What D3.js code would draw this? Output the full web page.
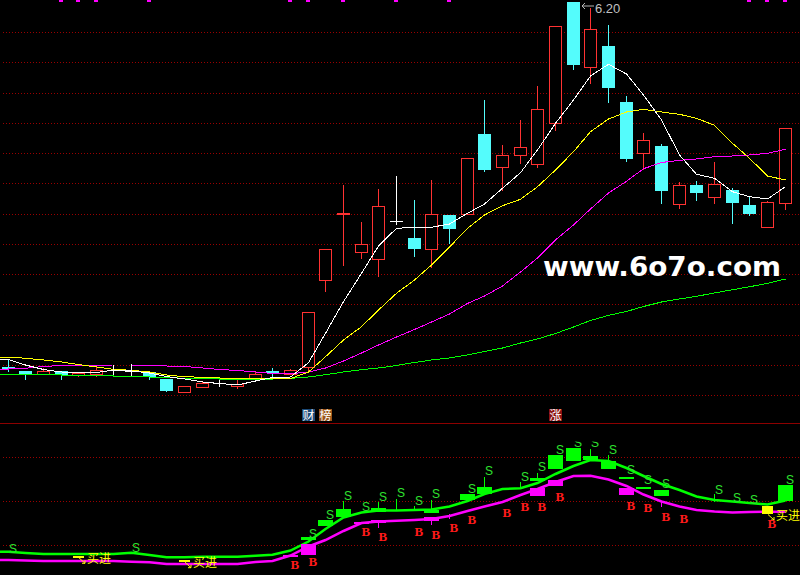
<!DOCTYPE html>
<html>
<head>
<meta charset="utf-8">
<script src="https://cdn.jsdelivr.net/npm/d3@7"></script>
<style>
  body { margin: 0; background: #000; }
  svg { display: block; }
</style>
</head>
<body>
<div class="chart"></div>
<script>
var svgWidth = 800;
var svgHeight = 575;

// daily candles (price)
var openP  = [2.55, 2.51, 2.48, 2.51, 2.47, 2.48, 2.52, 2.51, 2.50, 2.43, 2.305, 2.355, 2.39, 2.36, 2.445, 2.51, 2.48, 2.55, 3.42, 4.08, 3.70, 3.63, 4.01, 3.84, 3.73, 4.07, 4.08, 4.88, 4.55, 4.665, 4.58, 4.985, 6.20, 5.555, 5.76, 5.20, 4.687, 4.76, 4.183, 4.367, 4.253, 4.32, 4.167, 3.953, 4.193];
var highP  = [2.63, 2.515, 2.54, 2.51, 2.50, 2.55, 2.57, 2.58, 2.51, 2.43, 2.36, 2.40, 2.42, 2.42, 2.51, 2.54, 2.53, 3.10, 3.73, 4.37, 4.00, 4.33, 4.46, 4.22, 4.42, 4.07, 4.64, 5.22, 4.77, 5.02, 5.36, 5.955, 6.20, 6.14, 5.97, 5.26, 4.893, 4.78, 4.40, 4.41, 4.60, 4.34, 4.253, 4.21, 4.937];
var lowP   = [2.51, 2.43, 2.48, 2.43, 2.465, 2.46, 2.48, 2.46, 2.43, 2.31, 2.305, 2.355, 2.36, 2.34, 2.445, 2.44, 2.48, 2.52, 3.31, 3.57, 3.645, 3.455, 3.98, 3.66, 3.555, 3.79, 4.08, 4.51, 4.315, 4.585, 4.555, 4.915, 5.53, 5.39, 5.195, 4.605, 4.527, 4.193, 4.143, 4.22, 4.193, 3.993, 4.07, 3.953, 4.133];
var closeP = [2.53, 2.48, 2.51, 2.47, 2.49, 2.52, 2.52, 2.51, 2.45, 2.31, 2.36, 2.39, 2.39, 2.38, 2.48, 2.49, 2.52, 3.10, 3.73, 4.095, 3.78, 4.16, 4.01, 3.735, 4.08, 3.935, 4.64, 4.52, 4.665, 4.75, 5.13, 5.955, 5.565, 5.925, 5.345, 4.63, 4.82, 4.313, 4.367, 4.293, 4.377, 4.193, 4.083, 4.20, 4.937];

// moving averages
var ma5  = [2.625, 2.57, 2.525, 2.50, 2.495, 2.495, 2.52, 2.51, 2.49, 2.455, 2.43, 2.40, 2.385, 2.37, 2.41, 2.445, 2.45, 2.593, 2.887, 3.203, 3.487, 3.76, 3.937, 3.947, 3.947, 3.98, 4.087, 4.18, 4.337, 4.493, 4.72, 4.987, 5.22, 5.46, 5.577, 5.48, 5.27, 5.02, 4.67, 4.477, 4.437, 4.303, 4.253, 4.23, 4.353];
var ma10 = [2.65, 2.637, 2.62, 2.60, 2.575, 2.55, 2.527, 2.517, 2.50, 2.47, 2.453, 2.447, 2.44, 2.437, 2.437, 2.435, 2.435, 2.50, 2.653, 2.82, 2.953, 3.12, 3.287, 3.42, 3.57, 3.75, 3.937, 4.07, 4.163, 4.227, 4.353, 4.52, 4.703, 4.903, 5.03, 5.10, 5.127, 5.10, 5.077, 5.037, 4.967, 4.787, 4.637, 4.46, 4.42];
var ma20 = [2.53, 2.537, 2.555, 2.565, 2.567, 2.568, 2.57, 2.57, 2.565, 2.56, 2.555, 2.54, 2.525, 2.515, 2.50, 2.485, 2.482, 2.50, 2.54, 2.61, 2.69, 2.77, 2.85, 2.925, 3.00, 3.08, 3.185, 3.26, 3.36, 3.50, 3.64, 3.82, 3.97, 4.13, 4.29, 4.407, 4.533, 4.595, 4.617, 4.63, 4.653, 4.66, 4.67, 4.687, 4.727];
var ma60 = [2.48, 2.48, 2.475, 2.47, 2.47, 2.465, 2.46, 2.46, 2.45, 2.445, 2.437, 2.435, 2.43, 2.43, 2.43, 2.43, 2.437, 2.45, 2.473, 2.50, 2.523, 2.54, 2.565, 2.595, 2.62, 2.64, 2.67, 2.705, 2.74, 2.79, 2.83, 2.885, 2.95, 3.015, 3.067, 3.105, 3.155, 3.20, 3.23, 3.257, 3.29, 3.323, 3.352, 3.387, 3.43];

// indicator panel lines
var upLine = [9.325, 9.0, 8.75, 8.75, 8.75, 8.75, 8.75, 9.075, 8.5, 7.925, 7.925, 8.075, 8.075, 8.075, 8.325, 8.575, 9.625, 11.875, 15.0, 17.875, 19.125, 19.625, 19.625, 19.75, 19.875, 20.625, 22.0, 23.75, 25.0, 25.175, 26.5, 28.75, 30.75, 32.25, 32.0, 30.25, 28.25, 26.25, 24.75, 23.125, 22.25, 21.875, 21.5, 21.125, 22.125];
var dnLine = [7.25, 7.125, 7.0, 7.0, 7.0, 7.0, 7.0, 6.825, 6.675, 6.25, 6.25, 6.25, 6.25, 6.25, 6.75, 7.0, 8.375, 10.625, 12.25, 14.5, 16.5, 16.875, 17.05, 17.25, 17.5, 18.25, 19.5, 20.625, 21.75, 23.5, 25.0, 26.75, 28.25, 28.325, 27.375, 25.75, 23.625, 21.875, 20.625, 19.75, 19.375, 19.125, 19.25, 19.325, 19.325];

// [day, top, bottom]
var greenBars = [[17, 12.925, 12.075], [18, 17.25, 15.825], [19, 20.0, 18.075], [21, 20.25, 19.25], [24, 19.875, 19.125], [26, 23.75, 22.25], [27, 25.5, 23.75], [30, 27.75, 27.125], [31, 33.5, 30.0], [32, 35.325, 32.0], [33, 33.25, 32.25], [34, 32.0, 30.0], [35, 28.075, 27.5], [36, 25.575, 25.0], [37, 24.75, 23.25], [44, 26.0, 22.075]];
var greenWicks = [[19, 22.075, 20.0], [21, 21.825, 20.25], [22, 22.5, 19.5], [23, 20.75, 19.625], [24, 22.25, 19.75], [27, 28.0, 25.5], [29, 26.825, 25.175], [30, 29.075, 27.25], [33, 34.925, 33.25], [34, 33.5, 32.0], [40, 23.75, 21.825]];
var pinkBars = [[16, 8.575, 8.075], [17, 11.125, 8.5], [20, 16.825, 16.5], [21, 17.25, 16.425], [24, 18.125, 17.075], [30, 25.25, 23.25], [31, 27.375, 26.0], [35, 25.25, 23.5]];
var pinkWicks = [[21, 16.425, 15.325], [24, 17.075, 16.0], [25, 18.75, 17.5], [37, 21.875, 20.575]];
var yellowBars = [[4, 8.325, 7.925], [10, 7.25, 6.825], [43, 20.75, 18.75]];

var sellDays = [0, 7, 17, 18, 19, 20, 21, 22, 23, 24, 26, 27, 29, 30, 31, 32, 33, 34, 35, 36, 37, 40, 41, 42, 44];
var sellVals = [10.175, 10.25, 13.875, 18.5, 23.25, 20.625, 23.0, 24.075, 22.05, 23.925, 25.175, 29.5, 28.175, 30.5, 34.95, 36.6, 36.6, 34.95, 29.75, 27.25, 26.25, 24.95, 22.925, 22.45, 27.425];
var buyDays = [16, 17, 20, 21, 23, 24, 25, 26, 28, 29, 30, 31, 35, 36, 37, 38, 43];
var buyVals = [6.25, 6.825, 14.5, 13.075, 14.5, 13.75, 15.325, 17.45, 19.075, 20.75, 20.75, 23.25, 20.95, 20.425, 18.25, 17.675, 16.425];

var markDays = [3, 4, 5, 8, 16, 17, 19, 22, 25, 42, 43, 44];
var tagDays = [17, 18, 31];
var tagText = ["财", "榜", "涨"];
var tagFill = ["#1b4a78", "#9a5418", "#8a1010"];

var lowTicks = [11, 22, 33];
var highLabel = "6.20";

var svg = d3.select(".chart")
  .append("svg")
  .attr("width", svgWidth)
  .attr("height", svgHeight);

svg.append("rect")
  .attr("width", svgWidth)
  .attr("height", svgHeight)
  .attr("fill", "#000");

var days = d3.range(openP.length);
var x = d3.scaleBand().domain(days).range([-1.3, 793.4]);
function cx(i) { return Math.round(x(i) + x.bandwidth() / 2); }

var y = d3.scaleLinear().domain([2.22, 6.22]).range([400, 0]);
var yLow = d3.scaleLinear().domain([11, 33]).range([545, 457]);

// dotted grid, upper panel rows are evenly spaced
var gridRows = d3.range(13).map(function(k) { return 32 + k * 30.25; })
  .concat(lowTicks.map(function(v) { return yLow(v); }));

svg.append("g").selectAll("line")
  .data(gridRows)
  .enter().append("line")
  .attr("x1", 3).attr("x2", svgWidth)
  .attr("y1", function(d) { return Math.round(d) + 0.5; })
  .attr("y2", function(d) { return Math.round(d) + 0.5; })
  .attr("stroke", "#9a0000")
  .attr("stroke-dasharray", "1,2")
  .attr("shape-rendering", "crispEdges");

svg.append("line")
  .attr("x1", 0).attr("x2", svgWidth)
  .attr("y1", 423.5).attr("y2", 423.5)
  .attr("stroke", "#8c0000")
  .attr("shape-rendering", "crispEdges");

// candles
var candles = svg.append("g").attr("shape-rendering", "crispEdges");

days.forEach(function(i) {
  var o = openP[i], c = closeP[i];
  var col = c > o ? "#ff3232" : (c < o ? "#54fcfc" : "#ffffff");
  var xc = cx(i);
  candles.append("line")
    .attr("x1", xc + 0.5).attr("x2", xc + 0.5)
    .attr("y1", Math.round(y(highP[i]))).attr("y2", Math.round(y(lowP[i])) + 1)
    .attr("stroke", col);
  if (c > o) {
    var top = Math.round(y(c)), bot = Math.round(y(o));
    candles.append("rect")
      .attr("x", xc - 6 + 0.5).attr("y", top + 0.5)
      .attr("width", 12).attr("height", Math.max(bot - top, 1))
      .attr("fill", "#000").attr("stroke", col);
  } else if (c < o) {
    var t2 = Math.round(y(o)), b2 = Math.round(y(c));
    candles.append("rect")
      .attr("x", xc - 6).attr("y", t2)
      .attr("width", 13).attr("height", Math.max(b2 - t2, 1))
      .attr("fill", col);
  } else {
    candles.append("line")
      .attr("x1", xc - 6).attr("x2", xc + 7)
      .attr("y1", Math.round(y(o)) + 0.5).attr("y2", Math.round(y(o)) + 0.5)
      .attr("stroke", col);
  }
});

// lines run on to the left edge from the first day
function withLead(lineGen, values, yFn) {
  return "M0," + yFn(values[0]) + "L" + lineGen(values).slice(1);
}

// moving averages
var maLine = d3.line()
  .x(function(d, i) { return cx(i) + 0.5; })
  .y(function(d) { return y(d); });

[[ma60, "#00ff00"], [ma20, "#ff00ff"], [ma10, "#ffff00"], [ma5, "#ffffff"]].forEach(function(m) {
  svg.append("path")
    .attr("d", withLead(maLine, m[0], y))
    .attr("fill", "none")
    .attr("stroke", m[1])
    .attr("stroke-width", 1)
    .attr("shape-rendering", "crispEdges");
});

// highest price marker
var hiDay = d3.maxIndex(highP);
var hx = cx(hiDay) + 8, hy = y(highP[hiDay]) + 4;
svg.append("path")
  .attr("d", "M" + (hx + 13) + "," + hy + "H" + (hx + 1) + "M" + (hx + 4) + "," + (hy - 3) + "L" + (hx + 1) + "," + hy + "L" + (hx + 4) + "," + (hy + 3))
  .attr("fill", "none").attr("stroke", "#b4b4b4");
svg.append("text")
  .attr("x", hx + 14).attr("y", 13)
  .attr("font-family", "Liberation Sans, Arial, sans-serif")
  .attr("font-size", 13)
  .attr("fill", "#c0c0c0")
  .text(highLabel);

// small magenta marks along the top edge
svg.append("g").selectAll("rect")
  .data(markDays)
  .enter().append("rect")
  .attr("x", function(d) { return cx(d) - 2; })
  .attr("y", 0)
  .attr("width", 4).attr("height", 2)
  .attr("fill", "#ff00ff");

// info tags under the candles
var tags = svg.append("g");
tagDays.forEach(function(d, k) {
  tags.append("rect")
    .attr("x", cx(d) - 6).attr("y", 409)
    .attr("width", 13).attr("height", 12)
    .attr("fill", tagFill[k]);
  tags.append("text")
    .attr("x", cx(d) + 0.5).attr("y", 419.5)
    .attr("text-anchor", "middle")
    .attr("font-family", "Noto Sans CJK SC, sans-serif")
    .attr("font-size", 12)
    .attr("fill", "#ffffff")
    .text(tagText[k]);
});

// watermark
svg.append("text")
  .attr("x", 543).attr("y", 276)
  .attr("font-family", "DejaVu Sans, sans-serif")
  .attr("font-weight", "bold")
  .attr("font-size", 26)
  .attr("textLength", 238)
  .attr("lengthAdjust", "spacingAndGlyphs")
  .attr("fill", "#ffffff")
  .text("www.6o7o.com");

// indicator panel
svg.append("clipPath").attr("id", "lowClip")
  .append("rect").attr("x", 0).attr("y", 441.5).attr("width", svgWidth).attr("height", 140);

var low = svg.append("g").attr("clip-path", "url(#lowClip)");

var idxLine = d3.line()
  .x(function(d, i) { return cx(i) + 0.5; })
  .y(function(d) { return yLow(d); });

low.append("path").attr("d", withLead(idxLine, dnLine, yLow))
  .attr("fill", "none").attr("stroke", "#ff00ff").attr("stroke-width", 2.5);
low.append("path").attr("d", withLead(idxLine, upLine, yLow))
  .attr("fill", "none").attr("stroke", "#00ff00").attr("stroke-width", 2.5);

function drawBars(list, color, w) {
  low.append("g").attr("shape-rendering", "crispEdges").selectAll("rect")
    .data(list)
    .enter().append("rect")
    .attr("x", function(d) { return cx(d[0]) - Math.floor(w / 2); })
    .attr("y", function(d) { return Math.round(yLow(d[1])); })
    .attr("width", w)
    .attr("height", function(d) { return Math.max(Math.round(yLow(d[2]) - yLow(d[1])), 2); })
    .attr("fill", color);
}
function drawWicks(list, color) {
  low.append("g").attr("shape-rendering", "crispEdges").selectAll("line")
    .data(list)
    .enter().append("line")
    .attr("x1", function(d) { return cx(d[0]) + 0.5; })
    .attr("x2", function(d) { return cx(d[0]) + 0.5; })
    .attr("y1", function(d) { return yLow(d[1]); })
    .attr("y2", function(d) { return yLow(d[2]); })
    .attr("stroke", color);
}

drawWicks(greenWicks, "#00ff00");
drawWicks(pinkWicks, "#ff00ff");
drawBars(pinkBars, "#ff00ff", 15);
drawBars(greenBars, "#00ff00", 15);
drawBars(yellowBars, "#ffff00", 11);

// buy-in labels next to the yellow bars
yellowBars.forEach(function(d) {
  var xc = cx(d[0]), yb = yLow(d[2]);
  low.append("path")
    .attr("d", "M" + (xc + 1) + "," + (yb + 0.5) + "L" + (xc + 7) + "," + (yb + 6) + "M" + (xc + 4) + "," + (yb + 6) + "H" + (xc + 7) + "V" + (yb + 3))
    .attr("fill", "none").attr("stroke", "#ffff00");
  low.append("text")
    .attr("x", xc + 9).attr("y", yb + 1.5)
    .attr("dy", "0.35em")
    .attr("font-family", "Noto Sans CJK SC, sans-serif")
    .attr("font-size", 12)
    .attr("fill", "#ffff00")
    .text("买进");
});

low.append("g").selectAll("text")
  .data(sellDays)
  .enter().append("text")
  .attr("x", function(d) { return cx(d) + 1; })
  .attr("y", function(d, k) { return yLow(sellVals[k]); })
  .attr("dy", "0.36em")
  .attr("font-family", "Liberation Sans, Arial, sans-serif")
  .attr("font-size", 12)
  .attr("fill", "#2fe02f")
  .text("S");

low.append("g").selectAll("text")
  .data(buyDays)
  .enter().append("text")
  .attr("x", function(d) { return cx(d) + 0.5; })
  .attr("y", function(d, k) { return yLow(buyVals[k]); })
  .attr("dy", "0.36em")
  .attr("font-family", "Liberation Serif, serif")
  .attr("font-weight", "bold")
  .attr("font-size", 13)
  .attr("fill", "#ff1a1a")
  .text("B");
</script>
</body>
</html>
